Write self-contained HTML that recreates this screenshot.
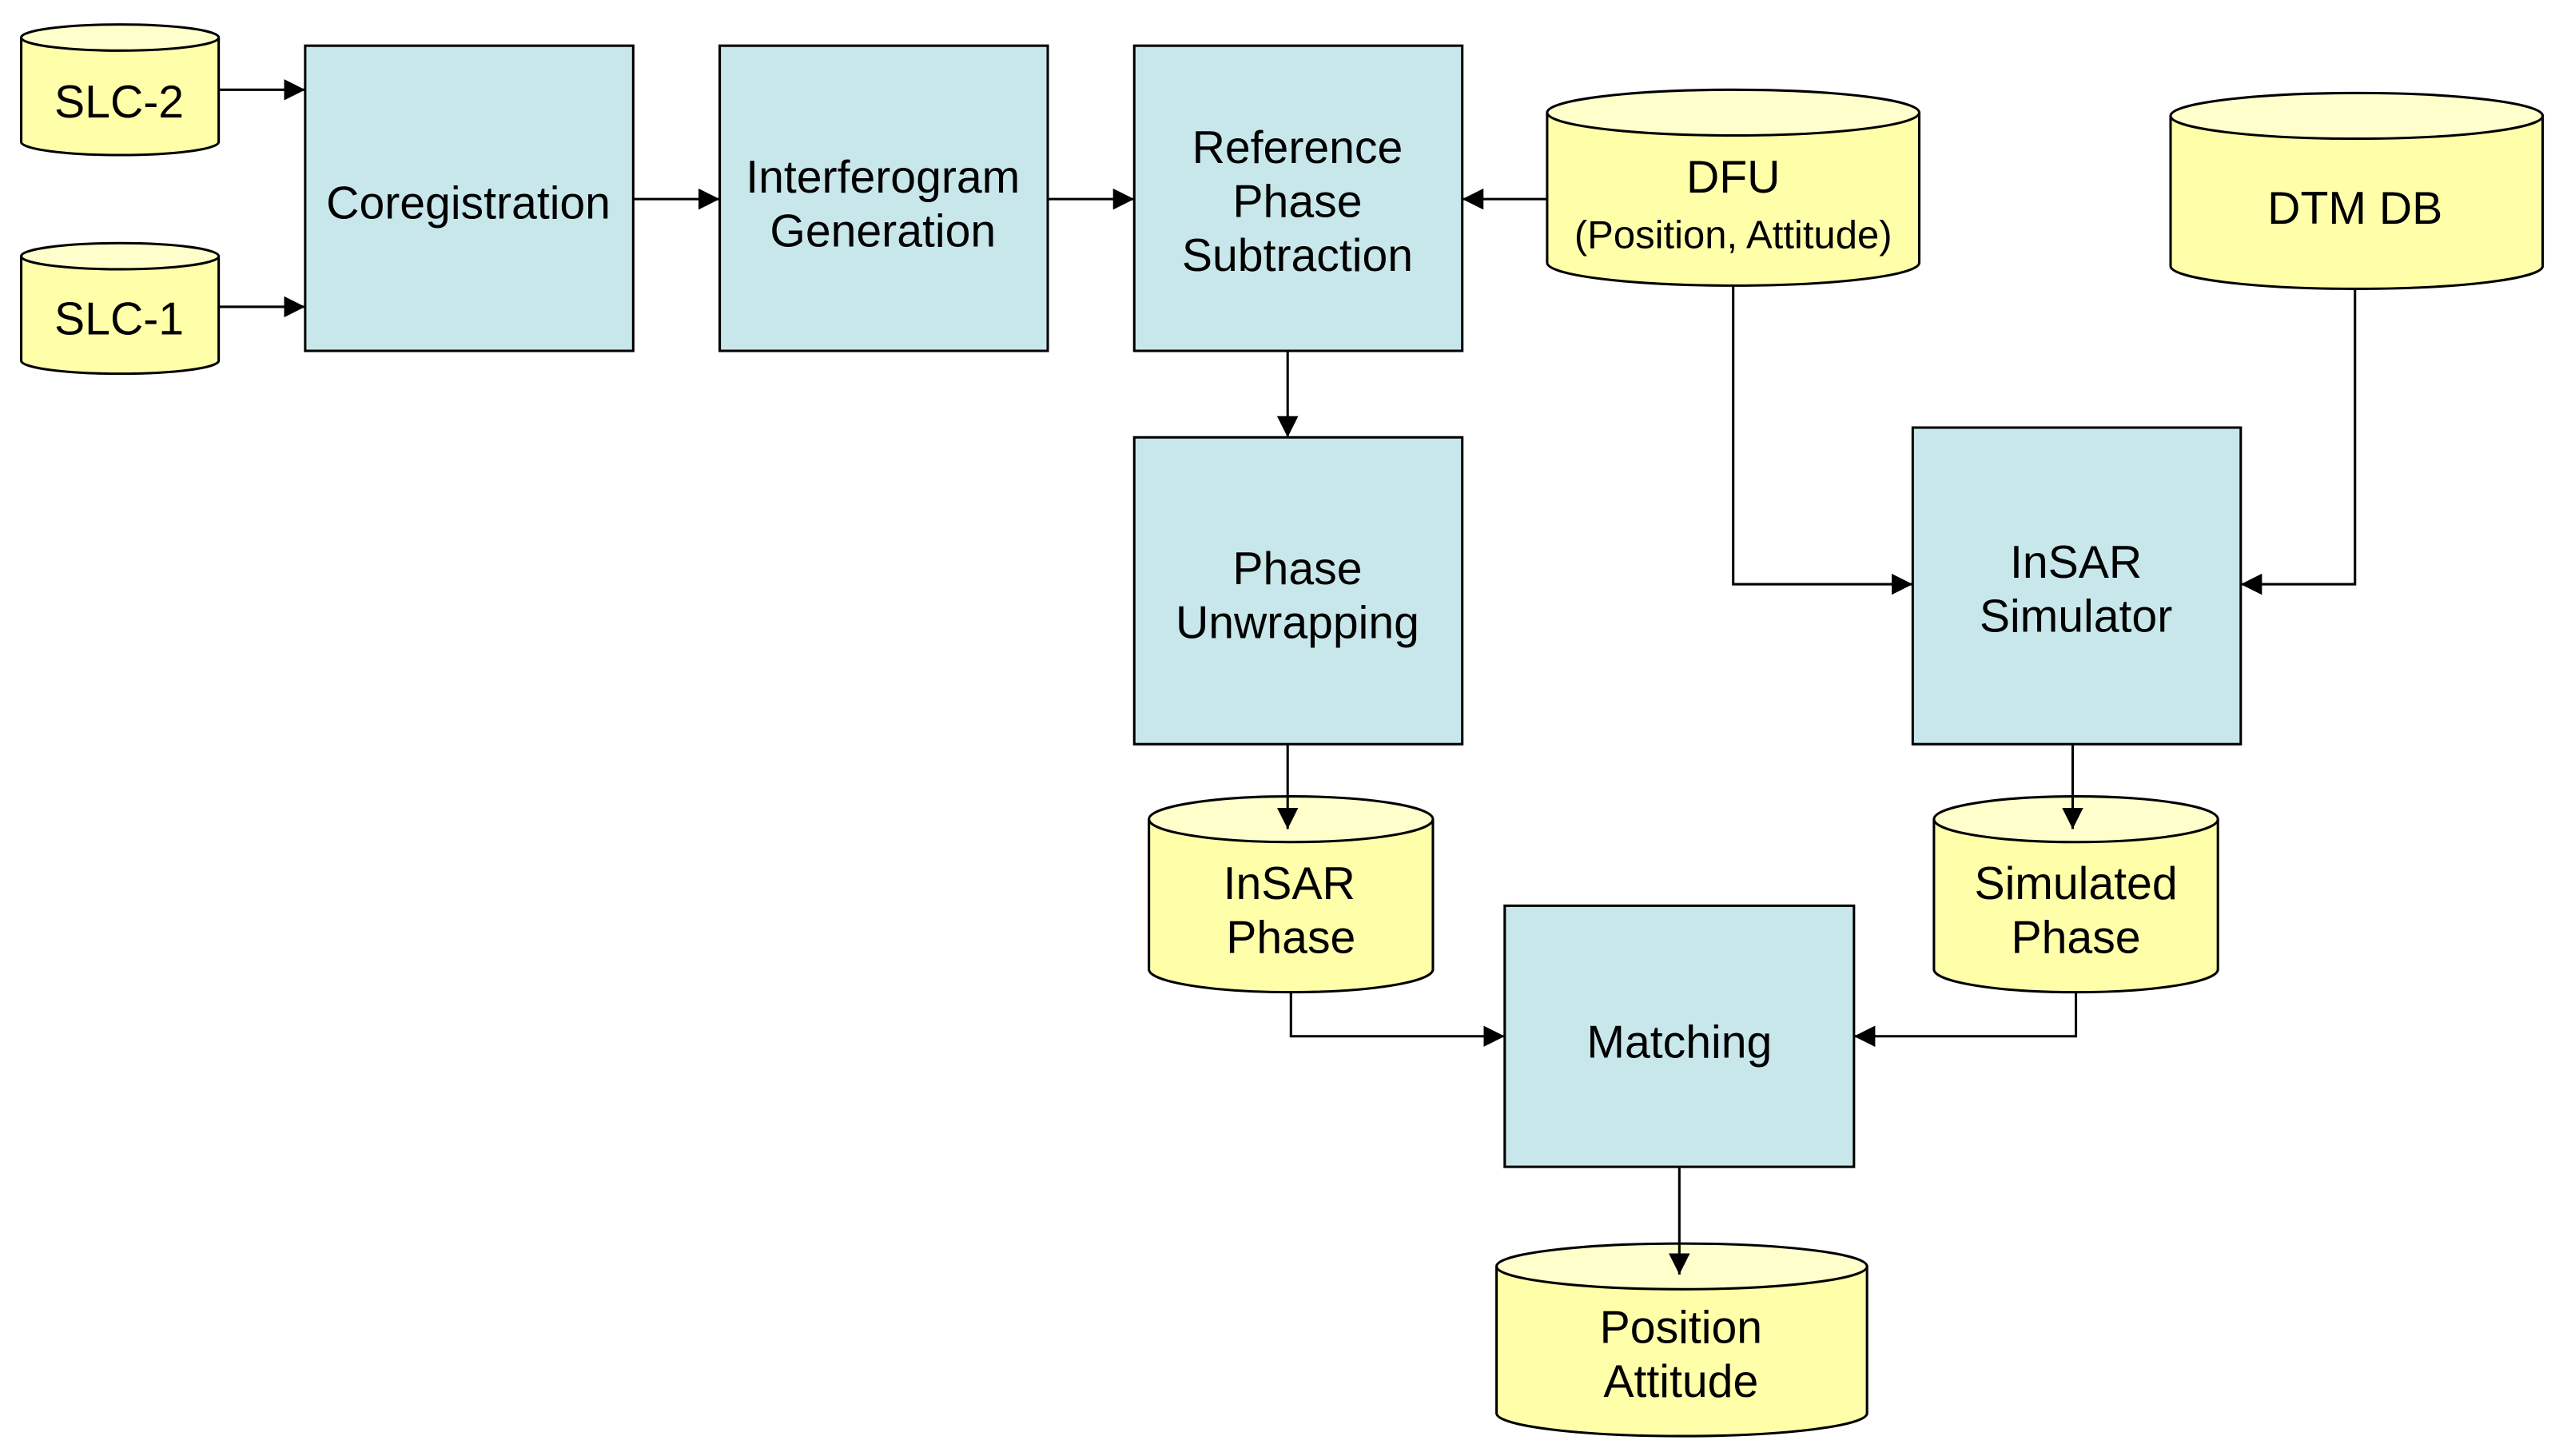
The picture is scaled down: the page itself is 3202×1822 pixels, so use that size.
<!DOCTYPE html>
<html><head><meta charset="utf-8"><style>html,body{margin:0;padding:0;background:#fff}svg{display:block}</style></head><body>
<svg width="3202" height="1822" viewBox="0 0 1568 892.2" preserveAspectRatio="none" xmlns="http://www.w3.org/2000/svg" font-family="Liberation Sans, Arial, sans-serif" font-size="28" text-anchor="middle">
<defs>
<marker id="a" viewBox="0 0 10 10" refX="10" refY="5" markerWidth="13" markerHeight="13" orient="auto" markerUnits="userSpaceOnUse"><path d="M0,0 L10,5 L0,10 z" fill="#000"/></marker>
</defs>
<g stroke="#000" stroke-width="1.5">
<g fill="#c8e7eb">
<rect x="187" y="28" width="201" height="187"/>
<rect x="441" y="28" width="201" height="187"/>
<rect x="695" y="28" width="201" height="187"/>
<rect x="695" y="268" width="201" height="188"/>
<rect x="1172" y="262" width="201" height="194"/>
<rect x="922" y="555" width="214" height="160"/>
</g>
<g fill="#ffffaa">
<path d="M13,23 V87 A60.5,8 0 0 0 134,87 V23"/><ellipse cx="73.5" cy="23" rx="60.5" ry="8" fill="#ffffcc"/>
<path d="M13,157 V221 A60.5,8 0 0 0 134,221 V157"/><ellipse cx="73.5" cy="157" rx="60.5" ry="8" fill="#ffffcc"/>
<path d="M948,69 V161 A114,14 0 0 0 1176,161 V69"/><ellipse cx="1062" cy="69" rx="114" ry="14" fill="#ffffcc"/>
<path d="M1330,71 V163 A114,14 0 0 0 1558,163 V71"/><ellipse cx="1444" cy="71" rx="114" ry="14" fill="#ffffcc"/>
<path d="M704,502 V594 A87,14 0 0 0 878,594 V502"/><ellipse cx="791" cy="502" rx="87" ry="14" fill="#ffffcc"/>
<path d="M1185,502 V594 A87,14 0 0 0 1359,594 V502"/><ellipse cx="1272" cy="502" rx="87" ry="14" fill="#ffffcc"/>
<path d="M917,776 V866 A113.5,14 0 0 0 1144,866 V776"/><ellipse cx="1030.5" cy="776" rx="113.5" ry="14" fill="#ffffcc"/>
</g>
<g fill="none" marker-end="url(#a)">
<path d="M134,55 H187"/>
<path d="M134,188 H187"/>
<path d="M388,122 H441"/>
<path d="M642,122 H695"/>
<path d="M948,122 H896"/>
<path d="M789,215 V268"/>
<path d="M1062,175 V358 H1172"/>
<path d="M1443,177 V358 H1373"/>
<path d="M789,456 V508"/>
<path d="M1270,456 V508"/>
<path d="M791,608 V635 H922"/>
<path d="M1272,608 V635 H1136"/>
<path d="M1029,715 V781"/>
</g>
</g>
<g fill="#000">
<text x="73" y="72">SLC-2</text>
<text x="73" y="205">SLC-1</text>
<text x="287" y="134">Coregistration</text>
<text x="541" y="118">Interferogram</text>
<text x="541" y="151">Generation</text>
<text x="795" y="100">Reference</text>
<text x="795" y="133">Phase</text>
<text x="795" y="166">Subtraction</text>
<text x="1062" y="118">DFU</text>
<text x="1062" y="152" font-size="24">(Position, Attitude)</text>
<text x="1443" y="137">DTM DB</text>
<text x="795" y="358">Phase</text>
<text x="795" y="391">Unwrapping</text>
<text x="1272" y="354">InSAR</text>
<text x="1272" y="387">Simulator</text>
<text x="790" y="551">InSAR</text>
<text x="791" y="584">Phase</text>
<text x="1272" y="551">Simulated</text>
<text x="1272" y="584">Phase</text>
<text x="1029" y="648">Matching</text>
<text x="1030" y="823">Position</text>
<text x="1030" y="856">Attitude</text>
</g>
</svg>
</body></html>
